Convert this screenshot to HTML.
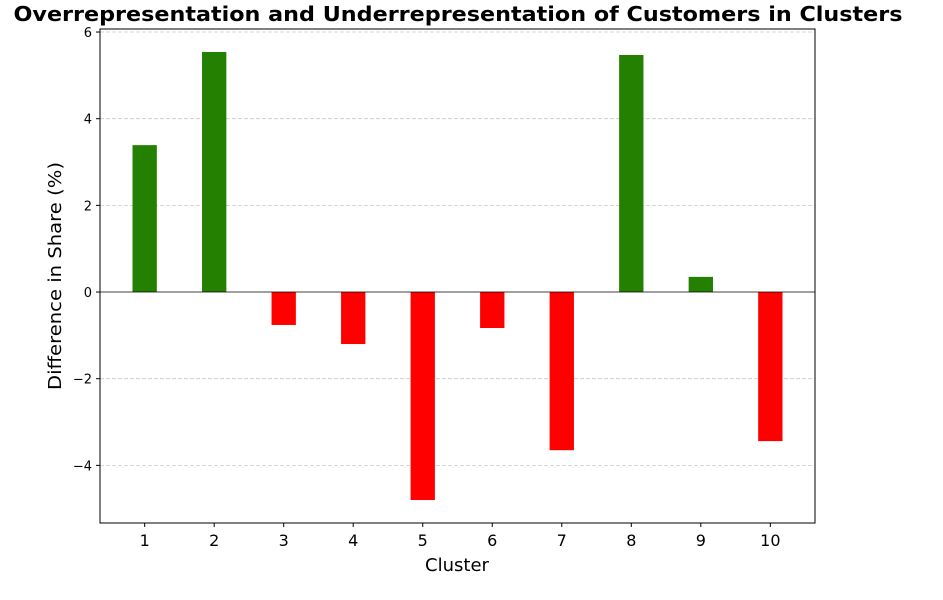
<!DOCTYPE html>
<html><head><meta charset="utf-8"><style>
body{margin:0;background:#fff;}
svg text{font-family:"DejaVu Sans","Liberation Sans",sans-serif;}
</style></head><body>
<svg id="chart" width="943" height="595">
<text x="458" y="21" text-anchor="middle" font-size="20" font-weight="bold" textLength="889" lengthAdjust="spacingAndGlyphs">Overrepresentation and Underrepresentation of Customers in Clusters</text>
<g id="grid"></g><g id="bars"></g><g id="axes"></g>
<text x="457" y="571" text-anchor="middle" font-size="18">Cluster</text>
<text transform="translate(61,276) rotate(-90)" text-anchor="middle" font-size="18" textLength="228" lengthAdjust="spacingAndGlyphs">Difference in Share (%)</text>
</svg>
<script>
const categories=["1","2","3","4","5","6","7","8","9","10"];
const values=[3.39,5.54,-0.76,-1.2,-4.8,-0.83,-3.65,5.47,0.35,-3.44];
const yTicks=[-4,-2,0,2,4,6];
const yTickLabels=["−4","−2","0","2","4","6"];
const L=100,R=815,T=29,B=523,ymin=-5.33,ymax=6.07,xmin=0.3575,xmax=10.6425,bw=0.35;
const NS="http://www.w3.org/2000/svg";
const sx=v=>L+(v-xmin)/(xmax-xmin)*(R-L);
const sy=v=>T+(ymax-v)/(ymax-ymin)*(B-T);
function mk(tag,attrs,parent){const e=document.createElementNS(NS,tag);for(const k in attrs)e.setAttribute(k,attrs[k]);document.getElementById(parent).appendChild(e);return e;}
yTicks.forEach((t,i)=>{
 if(t!==0){const g=mk('line',{x1:L,x2:R,y1:sy(t),y2:sy(t),stroke:'#c8c8c8','stroke-dasharray':'4,2','stroke-width':0.8},'grid');
 
 }
 const tk=mk('line',{x1:L-4,x2:L,y1:sy(t),y2:sy(t),stroke:'#000'},'axes');
 
 
 const tx=mk('text',{x:L-8,y:sy(t)+5,'text-anchor':'end','font-size':13},'axes');tx.textContent=yTickLabels[i];
 
 
});
values.forEach((v,i)=>{
 const c=i+1,x0=sx(c-bw/2),x1=sx(c+bw/2),y0=sy(Math.max(v,0)),y1=sy(Math.min(v,0));
 const r=mk('rect',{x:x0,y:y0,width:x1-x0,height:y1-y0,fill:v>=0?'#238000':'#ff0000'},'bars');
 
 
 const tk=mk('line',{x1:sx(c),x2:sx(c),y1:B,y2:B+4,stroke:'#000'},'axes');
 
 
 const tx=mk('text',{x:sx(c),y:B+23,'text-anchor':'middle','font-size':16},'axes');tx.textContent=categories[i];
 
 
});
const z=mk('line',{x1:L,x2:R,y1:sy(0),y2:sy(0),stroke:'#000','stroke-width':0.8},'axes');


const f=mk('rect',{x:L,y:T,width:R-L,height:B-T,fill:'none',stroke:'#000','stroke-width':1},'axes');


</script>
</body></html>
